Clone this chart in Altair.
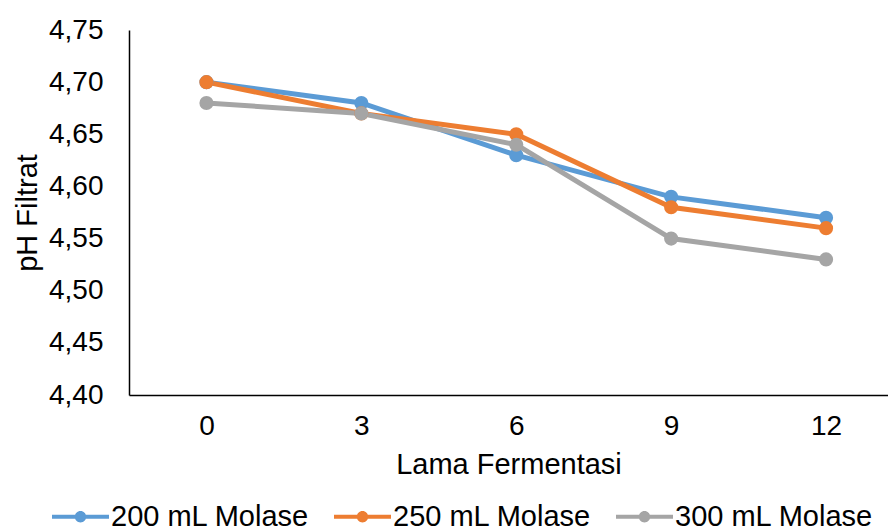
import altair as alt
import pandas as pd

waktu = [0, 3, 6, 9, 12]
seri = ["200 mL Molase", "250 mL Molase", "300 mL Molase"]
ph_200 = [4.70, 4.68, 4.63, 4.59, 4.57]
ph_250 = [4.70, 4.67, 4.65, 4.58, 4.56]
ph_300 = [4.68, 4.67, 4.64, 4.55, 4.53]
warna = ["#5B9BD5", "#ED7D31", "#A5A5A5"]
y_ticks = [4.40, 4.45, 4.50, 4.55, 4.60, 4.65, 4.70, 4.75]

rows = []
for name, vals in zip(seri, [ph_200, ph_250, ph_300]):
    for t, v in zip(waktu, vals):
        rows.append({"Lama Fermentasi": t, "pH": v, "Seri": name})
df = pd.DataFrame(rows)

FONT = "Liberation Sans"
sym = ("M-1,-0.07L1,-0.07L1,0.07L-1,0.07Z "
       "M-0.2,0A0.2,0.2 0 1 1 0.2,0A0.2,0.2 0 1 1 -0.2,0Z")

chart = alt.Chart(df).mark_line(
    strokeWidth=5,
    point=alt.OverlayMarkDef(filled=True, size=200, opacity=1),
).encode(
    x=alt.X("Lama Fermentasi:Q",
            scale=alt.Scale(domain=[-1.5, 13.2], nice=False, zero=False),
            axis=alt.Axis(values=waktu, title="Lama Fermentasi", grid=False,
                          ticks=False, tickSize=0, labelPadding=17,
                          titlePadding=10, domainColor="#000000",
                          domainWidth=1.5, labelFlush=False)),
    y=alt.Y("pH:Q",
            scale=alt.Scale(domain=[4.40, 4.75], nice=False, zero=False),
            axis=alt.Axis(values=y_ticks, title="pH Filtrat", grid=False,
                          ticks=False, tickSize=0, labelPadding=26,
                          titlePadding=6, domainColor="#000000",
                          domainWidth=1.5,
                          labelExpr="replace(format(datum.value, '.2f'), '.', ',')")),
    color=alt.Color("Seri:N", scale=alt.Scale(domain=seri, range=warna),
                    legend=alt.Legend(title=None, orient="none", direction="horizontal",
                                      legendX=-77, legendY=458,
                                      symbolType=sym, symbolSize=3249,
                                      symbolStrokeWidth=0, symbolOpacity=1,
                                      labelFontSize=29, labelFont=FONT,
                                      labelColor="#000000", labelOffset=2,
                                      labelLimit=0,
                                      columnPadding=24, padding=0)),
).properties(
    width=759, height=365,
    autosize=alt.AutoSizeParams(type="none"),
    padding={"left": 129, "top": 30, "right": 0, "bottom": 137},
).configure_view(stroke=None).configure_axis(
    labelFont=FONT, titleFont=FONT, labelFontSize=28, titleFontSize=29,
    labelColor="#000000", titleColor="#000000", titleFontWeight="normal",
)

chart.save("out.html", embed_options={"renderer": "svg", "actions": False})
